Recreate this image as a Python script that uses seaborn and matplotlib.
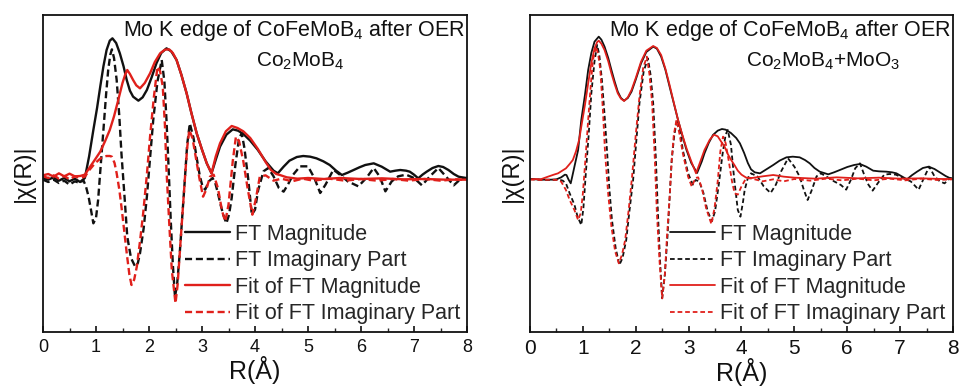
import numpy as np
import pandas as pd
import matplotlib
matplotlib.use("Agg")
import matplotlib.pyplot as plt
from matplotlib.ticker import MultipleLocator
import seaborn as sns

# ---------------- data ----------------
# Left panel: Co2MoB4 model
lb_mag_R = [0.0,0.1,0.2,0.3,0.4,0.5,0.6,0.7,0.79,0.87,0.95,1.02,1.08,1.14,1.2,1.26,1.31,1.38,1.45,1.52,1.58,1.64,1.70,1.80,1.88,1.96,2.05,2.14,2.23,2.33,2.42,2.52,2.61,2.71,2.8,2.9,3.0,3.09,3.18,3.26,3.34,3.46,3.58,3.68,3.78,3.91,4.05,4.2,4.35,4.43,4.54,4.65,4.79,4.91,5.04,5.16,5.29,5.41,5.53,5.64,5.75,5.86,5.97,6.08,6.24,6.39,6.55,6.65,6.74,6.85,6.92,7.0,7.08,7.16,7.24,7.35,7.46,7.55,7.65,7.75,7.84,8.0]
lb_mag_v = [0.0,-0.05,0.02,-0.08,0.0,-0.1,-0.02,-0.12,0.0,0.65,1.44,2.1,2.74,3.35,3.84,4.12,4.19,4.05,3.74,3.35,2.94,2.62,2.44,2.32,2.42,2.64,3.02,3.44,3.75,3.89,3.8,3.54,3.1,2.54,1.95,1.34,0.85,0.44,0.14,0.55,0.94,1.3,1.46,1.42,1.32,1.12,0.85,0.5,0.22,0.14,0.34,0.52,0.63,0.66,0.64,0.59,0.5,0.39,0.22,0.09,0.16,0.24,0.32,0.39,0.44,0.34,0.19,0.22,0.24,0.22,0.19,0.1,-0.01,0.1,0.19,0.3,0.36,0.33,0.24,0.12,0.04,-0.01]

lb_im_R = [0.0,0.1,0.2,0.3,0.4,0.5,0.6,0.7,0.76,0.81,0.86,0.91,0.95,1.0,1.04,1.09,1.14,1.19,1.23,1.27,1.30,1.34,1.39,1.44,1.48,1.54,1.59,1.66,1.74,1.79,1.83,1.9,1.96,2.02,2.08,2.16,2.24,2.29,2.33,2.37,2.41,2.45,2.49,2.53,2.58,2.63,2.68,2.72,2.77,2.84,2.9,2.96,3.01,3.06,3.13,3.2,3.25,3.3,3.35,3.4,3.46,3.51,3.56,3.63,3.7,3.75,3.8,3.87,3.94,4.0,4.06,4.16,4.25,4.35,4.45,4.54,4.62,4.72,4.85,5.0,5.12,5.23,5.33,5.48,5.6,5.75,5.95,6.1,6.24,6.35,6.46,6.58,6.7,6.85,7.0,7.15,7.3,7.46,7.6,7.75,7.9,8.0]
lb_im_v = [-0.05,-0.12,-0.05,-0.15,-0.08,-0.2,-0.1,-0.15,-0.06,-0.25,-0.56,-1.0,-1.36,-1.2,-0.66,0.4,1.44,2.5,3.24,3.7,3.86,3.6,2.94,1.85,0.74,-0.6,-1.76,-2.4,-2.66,-2.55,-2.26,-1.5,-0.56,0.6,1.74,2.9,3.54,2.9,1.74,0.3,-1.26,-2.6,-3.56,-3.2,-2.26,-1.1,0.04,1.0,1.64,1.2,0.6,0.05,-0.25,-0.35,-0.1,0.0,-0.15,-0.45,-0.8,-1.1,-1.36,-1.1,-0.6,0.4,1.2,1.34,0.9,0.0,-1.1,-0.95,-0.36,0.2,0.3,0.05,-0.3,-0.41,-0.2,0.1,0.35,0.35,0.0,-0.45,-0.2,0.25,0.1,-0.1,-0.25,0.0,0.3,0.05,-0.4,-0.1,0.05,0.1,0.0,-0.22,0.05,0.3,0.05,-0.22,0.0,0.0]

lr_mag_R = [0.0,0.1,0.2,0.3,0.4,0.5,0.6,0.7,0.79,0.89,0.98,1.08,1.17,1.26,1.34,1.42,1.5,1.55,1.59,1.64,1.70,1.76,1.83,1.92,2.02,2.11,2.21,2.3,2.38,2.45,2.52,2.61,2.71,2.8,2.9,3.0,3.09,3.18,3.26,3.34,3.45,3.56,3.67,3.78,3.91,4.05,4.2,4.3,4.4,4.47,4.6,4.8,5.0,5.3,5.6,6.0,6.4,6.8,7.2,7.6,8.0]
lr_mag_v = [0.08,0.12,0.04,0.14,0.05,0.13,0.05,0.06,0.1,0.34,0.55,0.79,1.1,1.44,1.85,2.34,2.85,3.1,3.24,3.12,2.94,2.78,2.69,2.85,3.14,3.48,3.74,3.85,3.86,3.75,3.54,3.1,2.54,1.95,1.34,0.85,0.44,0.14,0.65,1.04,1.4,1.56,1.5,1.4,1.2,0.88,0.48,0.24,0.12,0.09,0.02,-0.02,0.0,-0.03,0.0,-0.03,-0.01,-0.04,-0.03,-0.05,-0.05]

lr_im_R = [0.0,0.1,0.2,0.3,0.4,0.5,0.6,0.7,0.79,0.88,0.98,1.08,1.15,1.2,1.26,1.3,1.35,1.39,1.44,1.48,1.53,1.58,1.63,1.67,1.72,1.77,1.83,1.89,1.96,2.02,2.09,2.16,2.21,2.26,2.3,2.33,2.38,2.43,2.5,2.54,2.58,2.63,2.68,2.72,2.76,2.82,2.87,2.95,3.02,3.08,3.15,3.22,3.3,3.38,3.44,3.5,3.58,3.64,3.7,3.78,3.86,3.95,4.02,4.09,4.2,4.35,4.5,4.7,4.9,5.1,5.4,5.7,6.0,6.3,6.6,6.9,7.2,7.5,7.8,8.0]
lr_im_v = [0.05,0.0,0.08,-0.02,0.06,-0.04,0.05,0.0,0.04,0.25,0.44,0.58,0.64,0.66,0.66,0.64,0.45,0.14,-0.35,-0.86,-1.55,-2.26,-2.9,-3.21,-3.05,-2.66,-1.9,-1.06,0.1,1.24,2.4,3.34,3.2,2.74,1.6,0.24,-1.3,-2.76,-3.76,-3.2,-2.26,-1.1,0.04,0.9,1.44,1.2,0.74,0.0,-0.56,-0.35,0.04,0.1,-0.3,-1.0,-1.3,-0.8,0.5,1.24,1.1,0.5,-0.3,-1.1,-0.6,0.04,0.08,-0.08,-0.02,-0.1,-0.02,-0.08,-0.02,-0.08,-0.03,-0.08,-0.03,-0.08,-0.03,-0.08,-0.04,-0.06]

# Right panel: Co2MoB4 + MoO3 model
rb_mag_R = [0.0,0.2,0.4,0.5,0.59,0.66,0.69,0.73,0.77,0.8,0.84,0.91,0.97,1.04,1.1,1.16,1.22,1.3,1.35,1.41,1.48,1.54,1.6,1.66,1.72,1.78,1.85,1.92,2.0,2.1,2.2,2.33,2.4,2.48,2.56,2.64,2.72,2.8,2.88,2.96,3.05,3.16,3.25,3.3,3.38,3.46,3.55,3.63,3.7,3.8,3.9,3.97,4.05,4.12,4.18,4.25,4.35,4.47,4.6,4.72,4.85,4.97,5.1,5.2,5.29,5.38,5.48,5.64,5.75,5.86,6.0,6.13,6.24,6.36,6.49,6.6,6.74,6.85,6.93,7.03,7.13,7.22,7.32,7.43,7.54,7.65,7.76,7.86,7.95,8.0]
rb_mag_v = [-0.03,-0.05,-0.05,-0.04,0.02,0.1,0.09,-0.05,-0.16,0.05,0.34,0.84,1.74,2.5,3.24,3.75,4.09,4.24,4.15,3.94,3.6,3.24,2.9,2.59,2.4,2.32,2.4,2.59,2.95,3.44,3.78,3.94,3.88,3.64,3.25,2.74,2.24,1.74,1.28,0.84,0.45,0.15,0.5,0.74,1.05,1.29,1.42,1.47,1.45,1.35,1.2,1.04,0.75,0.45,0.26,0.17,0.14,0.26,0.39,0.52,0.62,0.64,0.62,0.54,0.44,0.3,0.19,0.11,0.17,0.24,0.33,0.39,0.42,0.34,0.22,0.2,0.19,0.17,0.14,0.05,-0.04,0.08,0.19,0.3,0.34,0.27,0.16,0.06,-0.01,-0.03]

rb_im_R = [0.0,0.2,0.4,0.55,0.62,0.68,0.75,0.84,0.9,0.97,1.01,1.06,1.11,1.16,1.22,1.27,1.31,1.36,1.41,1.46,1.5,1.55,1.62,1.69,1.75,1.82,1.88,1.95,2.01,2.07,2.15,2.23,2.28,2.33,2.38,2.42,2.46,2.5,2.55,2.6,2.64,2.68,2.73,2.78,2.84,2.89,2.99,3.08,3.13,3.2,3.28,3.36,3.44,3.5,3.57,3.64,3.7,3.74,3.8,3.86,3.93,3.98,4.03,4.06,4.12,4.18,4.3,4.42,4.55,4.65,4.75,4.88,5.0,5.1,5.18,5.25,5.32,5.42,5.5,5.6,5.75,5.88,5.98,6.07,6.15,6.24,6.32,6.4,6.48,6.58,6.7,6.8,6.92,7.05,7.2,7.35,7.45,7.55,7.65,7.75,7.84,7.95,8.0]
rb_im_v = [-0.03,-0.05,-0.06,-0.05,-0.08,-0.16,-0.46,-0.8,-1.16,-1.41,-0.9,0.24,1.3,2.54,3.5,3.99,3.7,2.94,1.9,0.74,-0.3,-1.26,-2.1,-2.61,-2.4,-1.86,-1.0,-0.06,1.1,2.24,3.2,3.59,3.1,2.24,0.6,-1.06,-2.5,-3.61,-2.9,-1.76,-0.6,0.54,1.3,1.74,1.4,0.84,0.14,-0.2,-0.06,-0.1,-0.45,-1.0,-1.3,-1.0,-0.2,0.7,1.3,1.44,1.0,0.0,-0.96,-1.16,-0.7,-0.36,0.0,0.14,0.05,-0.25,-0.45,-0.2,0.2,0.59,0.34,0.04,-0.36,-0.66,-0.4,0.05,0.14,0.05,-0.1,-0.21,-0.35,-0.05,0.29,0.44,0.1,-0.2,-0.38,-0.15,0.1,0.12,0.1,0.0,-0.1,-0.35,0.0,0.34,0.05,-0.1,-0.16,0.0,-0.02]

rr_mag_R = [0.0,0.1,0.2,0.34,0.45,0.53,0.61,0.68,0.75,0.81,0.87,0.93,0.97,1.04,1.1,1.16,1.22,1.27,1.3,1.35,1.41,1.48,1.54,1.6,1.66,1.72,1.78,1.85,1.92,2.0,2.1,2.2,2.33,2.4,2.48,2.56,2.64,2.72,2.8,2.88,2.96,3.05,3.14,3.2,3.3,3.4,3.48,3.55,3.62,3.68,3.74,3.8,3.87,3.93,4.0,4.09,4.2,4.4,4.6,4.8,5.0,5.4,5.8,6.2,6.6,7.0,7.4,7.8,8.0]
rr_mag_v = [-0.05,-0.03,-0.04,0.04,0.1,0.14,0.22,0.29,0.42,0.54,0.8,1.15,1.54,2.2,2.84,3.45,3.89,4.08,4.12,4.03,3.84,3.5,3.14,2.82,2.54,2.38,2.31,2.42,2.64,3.0,3.49,3.82,3.96,3.9,3.69,3.28,2.79,2.26,1.74,1.3,0.89,0.5,0.14,0.4,0.84,1.15,1.3,1.25,1.08,0.94,0.72,0.55,0.38,0.22,0.1,0.01,0.0,0.05,0.09,0.04,0.01,-0.02,0.02,-0.01,0.01,-0.02,-0.01,-0.03,-0.03]

rr_im_R = [0.0,0.2,0.4,0.52,0.59,0.68,0.75,0.84,0.91,0.96,1.0,1.05,1.1,1.15,1.19,1.25,1.29,1.33,1.38,1.42,1.48,1.54,1.61,1.68,1.74,1.8,1.87,1.93,2.0,2.07,2.14,2.21,2.26,2.31,2.36,2.4,2.45,2.5,2.55,2.59,2.64,2.68,2.72,2.77,2.83,2.89,2.99,3.06,3.13,3.18,3.25,3.33,3.43,3.49,3.55,3.6,3.65,3.7,3.76,3.82,3.87,3.93,4.0,4.09,4.2,4.4,4.6,4.8,5.0,5.3,5.6,5.9,6.2,6.5,6.8,7.1,7.4,7.7,8.0]
rr_im_v = [-0.04,-0.06,-0.05,-0.06,-0.11,-0.36,-0.66,-0.96,-1.26,-1.05,-0.46,0.6,1.74,2.8,3.54,3.94,3.7,3.24,2.0,0.74,-0.5,-1.46,-2.2,-2.56,-2.3,-1.86,-0.9,0.04,1.3,2.44,3.3,3.64,3.1,2.24,0.6,-1.06,-2.5,-3.61,-2.9,-1.76,-0.6,0.54,1.3,1.74,1.3,0.74,0.04,-0.26,0.0,0.02,-0.3,-0.9,-1.38,-0.9,-0.1,0.8,1.24,1.05,0.5,-0.1,-0.46,-0.5,-0.25,0.0,-0.02,-0.1,-0.04,-0.1,-0.03,-0.08,-0.02,-0.07,-0.02,-0.07,-0.02,-0.07,-0.02,-0.06,-0.04]

legend_labels = ["FT Magnitude", "FT Imaginary Part", "Fit of FT Magnitude", "Fit of FT Imaginary Part"]
title_line = "Mo K edge of CoFeMoB$_4$ after OER"
model_labels = ["Co$_2$MoB$_4$", "Co$_2$MoB$_4$+MoO$_3$"]
x_ticks = [0, 1, 2, 3, 4, 5, 6, 7, 8]

# ---------------- style ----------------
sns.set_theme(style="ticks")
plt.rcParams["font.family"] = ["Liberation Sans", "DejaVu Sans"]
plt.rcParams["mathtext.fontset"] = "custom"
plt.rcParams["mathtext.rm"] = "Liberation Sans"
plt.rcParams["mathtext.it"] = "Liberation Sans:italic"
plt.rcParams["axes.linewidth"] = 1.3
plt.rcParams["axes.edgecolor"] = "#111111"

BLACK = "#111111"
RED = "#e0201b"

fig = plt.figure(figsize=(9.62, 3.87), dpi=100)
ax_l = fig.add_axes([43/962, 55/387, 424/962, 317/387])
ax_r = fig.add_axes([530/962, 55/387, 423/962, 317/387])

panels = [
    (ax_l, (lb_mag_R, lb_mag_v), (lb_im_R, lb_im_v), (lr_mag_R, lr_mag_v), (lr_im_R, lr_im_v),
     model_labels[0], 1.7, (0, (3.0, 1.6)), 13, 0.606, 0.335, 6, -0.077),
    (ax_r, (rb_mag_R, rb_mag_v), (rb_im_R, rb_im_v), (rr_mag_R, rr_mag_v), (rr_im_R, rr_im_v),
     model_labels[1], 1.3, (0, (2.6, 1.6)), 15, 0.693, 0.331, 5, -0.082),
]

for (ax, bm, bi, rm, ri, model, lw, dash, tick_fs, mx, legx, ypad, xlab_y) in panels:
    curves = [
        (bm, BLACK, "-", legend_labels[0]),
        (bi, BLACK, dash, legend_labels[1]),
        (rm, RED, "-", legend_labels[2]),
        (ri, RED, dash, legend_labels[3]),
    ]
    for (R, v), col, ls, lab in curves:
        df = pd.DataFrame({"R": R, "chi": v})
        sns.lineplot(data=df, x="R", y="chi", ax=ax, color=col, linestyle=ls,
                     linewidth=lw, label=lab, sort=False, estimator=None)

    ax.set_xlim(0, 8)
    ax.set_ylim(-4.62, 4.89)
    ax.set_xticks(x_ticks)
    ax.xaxis.set_minor_locator(MultipleLocator(0.5))
    ax.set_yticks([])
    ax.tick_params(axis="x", which="major", direction="in", length=4, width=1.2,
                   labelsize=tick_fs, pad=5, colors=BLACK)
    ax.tick_params(axis="x", which="minor", direction="in", length=3, width=1.0)
    for sp in ax.spines.values():
        sp.set_visible(True)
        sp.set_linewidth(1.3)
        sp.set_color(BLACK)

    ax.set_xlabel("R(Å)", fontsize=18, color=BLACK)
    ax.xaxis.set_label_coords(0.5, xlab_y)
    ax.set_ylabel("|χ(R)|", fontsize=17, labelpad=ypad, color=BLACK)

    ax.text(0.995, 0.952, title_line, transform=ax.transAxes, ha="right", va="center",
            fontsize=15.5, color=BLACK)
    ax.text(mx, 0.853, model, transform=ax.transAxes, ha="center", va="center",
            fontsize=15, color=BLACK)

    ax.legend(loc="upper left", bbox_to_anchor=(legx, 0.342), frameon=False,
              fontsize=15.5, handlelength=2.1, handletextpad=0.2,
              labelspacing=0.26, borderpad=0, borderaxespad=0)

fig.savefig("out.png", dpi=100)
